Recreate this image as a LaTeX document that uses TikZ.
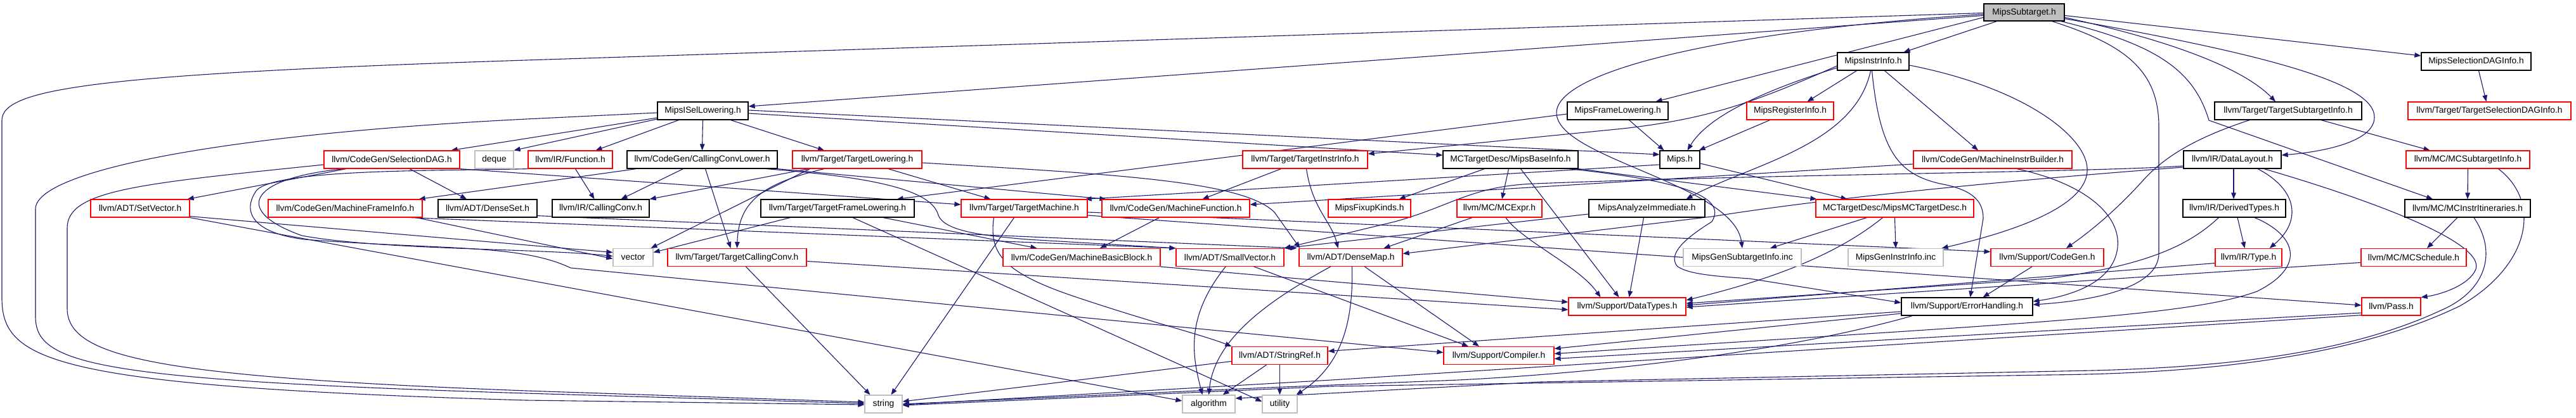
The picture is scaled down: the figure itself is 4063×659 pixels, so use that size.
\documentclass[tikz,border=0pt]{standalone}
\usepackage{fontspec}
\setmainfont{Liberation Sans}
\usetikzlibrary{arrows.meta,calc,backgrounds}
\definecolor{edgeblue}{HTML}{191970}
\definecolor{boxgray}{HTML}{BFBFBF}
\definecolor{boxred}{HTML}{FF0000}
\tikzset{
  box/.style={draw, rectangle, inner sep=0pt, minimum height=14pt, line width=0.6pt, font=\fontsize{6.9}{8}\selectfont, text=black, fill=white},
  kbox/.style={box, draw=black},
  rbox/.style={box, draw=boxred},
  gbox/.style={box, draw=boxgray},
  rootbox/.style={box, draw=black, fill=boxgray},
  bw/.style={minimum width=#1*0.5pt},
  lnk/.style={draw=edgeblue, line width=0.55pt, line join=round, -{Triangle[length=5pt,width=3.8pt]}},
}
\begin{document}
\begin{tikzpicture}[x=0.5pt,y=-0.5pt]
\begin{scope}[on background layer]
\fill[white] (0,0) rectangle (4063,659);
\end{scope}
\useasboundingbox (0,0) rectangle (4063,659);
% row 0-2
\node[rootbox,bw=127,minimum height=13.5pt] (sub) at (3192.5,19.5) {MipsSubtarget.h};
\node[kbox,bw=113] (instr) at (2954.5,97) {MipsInstrInfo.h};
\node[kbox,bw=173] (sdaginfo) at (3905.5,97) {MipsSelectionDAGInfo.h};
\node[kbox,bw=143] (isel) at (1108.5,175) {MipsISelLowering.h};
\node[kbox,bw=159] (frame) at (2551.5,175) {MipsFrameLowering.h};
\node[rbox,bw=137] (reginfo) at (2823.5,175) {MipsRegisterInfo.h};
\node[kbox,bw=232] (tsi) at (3609,175) {llvm/Target/TargetSubtargetInfo.h};
\node[rbox,bw=257] (tsdag) at (3926.5,175) {llvm/Target/TargetSelectionDAGInfo.h};
% row 3
\node[rbox,bw=214] (sdag) at (618,252) {llvm/CodeGen/SelectionDAG.h};
\node[gbox,bw=61] (deque) at (779.5,252) {deque};
\node[rbox,bw=133] (func) at (899.5,252) {llvm/IR/Function.h};
\node[kbox,bw=237] (ccl) at (1107.5,252) {llvm/CodeGen/CallingConvLower.h};
\node[rbox,bw=204] (tl) at (1352,252) {llvm/Target/TargetLowering.h};
\node[rbox,bw=197] (tii) at (2058.5,252) {llvm/Target/TargetInstrInfo.h};
\node[kbox,bw=213] (base) at (2382.5,252) {MCTargetDesc/MipsBaseInfo.h};
\node[kbox,bw=63] (mips) at (2649.5,252) {Mips.h};
\node[rbox,bw=250] (mib) at (3143,252) {llvm/CodeGen/MachineInstrBuilder.h};
\node[kbox,bw=154] (dl) at (3521,252) {llvm/IR/DataLayout.h};
\node[rbox,bw=195] (mcsti) at (3892.5,252) {llvm/MC/MCSubtargetInfo.h};
% row 4
\node[rbox,bw=156] (setvec) at (221,329) {llvm/ADT/SetVector.h};
\node[rbox,bw=243] (mfi) at (544.5,329) {llvm/CodeGen/MachineFrameInfo.h};
\node[kbox,bw=156] (denseset) at (769,329) {llvm/ADT/DenseSet.h};
\node[kbox,bw=153] (cc) at (947.5,329) {llvm/IR/CallingConv.h};
\node[kbox,bw=242] (tfl) at (1321,329) {llvm/Target/TargetFrameLowering.h};
\node[rbox,bw=199] (tm) at (1615.5,329) {llvm/Target/TargetMachine.h};
\node[rbox,bw=233] (mf) at (1854.5,329) {llvm/CodeGen/MachineFunction.h};
\node[rbox,bw=130] (fixup) at (2160,329) {MipsFixupKinds.h};
\node[rbox,bw=134] (mcexpr) at (2365,329) {llvm/MC/MCExpr.h};
\node[kbox,bw=183] (ai) at (2597.5,329) {MipsAnalyzeImmediate.h};
\node[rbox,bw=249] (mcdesc) at (2988.5,329) {MCTargetDesc/MipsMCTargetDesc.h};
\node[kbox,bw=162] (dt) at (3524,329) {llvm/IR/DerivedTypes.h};
\node[kbox,bw=198] (mcii) at (3892,329) {llvm/MC/MCInstrItineraries.h};
% row 5
\node[gbox,bw=63] (vector) at (998.5,406.5) {vector};
\node[rbox,bw=219] (tcc) at (1162.5,406.5) {llvm/Target/TargetCallingConv.h};
\node[rbox,bw=248] (mbb) at (1706,406.5) {llvm/CodeGen/MachineBasicBlock.h};
\node[rbox,bw=170] (svec) at (1940,406.5) {llvm/ADT/SmallVector.h};
\node[rbox,bw=163] (dmap) at (2130.5,406.5) {llvm/ADT/DenseMap.h};
\node[gbox,bw=186] (gensub) at (2748,406.5) {MipsGenSubtargetInfo.inc};
\node[gbox,bw=150] (geninstr) at (2990,406.5) {MipsGenInstrInfo.inc};
\node[rbox,bw=178] (cg) at (3229,406.5) {llvm/Support/CodeGen.h};
\node[rbox,bw=105] (type) at (3546.5,406.5) {llvm/IR/Type.h};
\node[rbox,bw=166] (sched) at (3807,406.5) {llvm/MC/MCSchedule.h};
% row 6-8
\node[rbox,bw=185] (datatypes) at (2566.5,484) {llvm/Support/DataTypes.h};
\node[kbox,bw=207] (err) at (3102.5,484) {llvm/Support/ErrorHandling.h};
\node[rbox,bw=93] (pass) at (3771.5,484) {llvm/Pass.h};
\node[rbox,bw=151] (sref) at (2018.5,561.5) {llvm/ADT/StringRef.h};
\node[rbox,bw=174] (compiler) at (2364,561.5) {llvm/Support/Compiler.h};
\node[gbox,bw=59] (string) at (1393.5,638) {string};
\node[gbox,bw=83] (algo) at (1906.5,638) {algorithm};
\node[gbox,bw=55] (util) at (2018.5,638) {utility};

\begin{scope}[on background layer]
% MipsSubtarget.h
\draw[lnk] ($(sub.south)+(-43,0)$) -- ($(instr.north)+(48,0)$);
\draw[lnk] ($(sub.west)+(0,8)$) -- ($(frame.north)+(60,0)$);
\draw[lnk] ($(sub.west)+(0,5)$) -- ($(isel.east)+(0,-7)$);
\draw[lnk] ($(sub.west)+(0,1)$) -- (830,95) .. controls (150,117) and (3,140) .. (3,190) -- (3,470) .. controls (3,570) and (80,610) .. (830,632) -- ($(string.west)+(0,1)$);
\draw[lnk] ($(sub.west)+(0,3)$) .. controls (2700,50) and (2455,115) .. (2455,178) .. controls (2455,250) and (2735,290) .. (gensub.north);
\draw[lnk] ($(sub.east)+(0,5)$) -- ($(sdaginfo.west)+(0,-9)$);
\draw[lnk] ($(sub.east)+(0,8)$) .. controls (3450,70) and (3545,115) .. ($(tsi.north)+(-20,0)$);
\draw[lnk] ($(sub.east)+(0,10)$) .. controls (3600,90) and (3745,135) .. (3745,185) .. controls (3745,225) and (3660,240) .. ($(dl.east)+(0,-7)$);
\draw[lnk] ($(sub.south east)+(-6,0)$) .. controls (3400,70) and (3460,110) .. (3484,190) -- ($(mcii.north)+(-55,0)$);
\draw[lnk] ($(sub.south east)+(-20,0)$) .. controls (3350,70) and (3405,110) .. (3405,200) -- (3405,400) .. controls (3405,455) and (3300,475) .. ($(err.east)+(0,-3)$);
% MipsInstrInfo.h
\draw[lnk] ($(instr.south)+(-26,0)$) -- ($(reginfo.north)+(27,0)$);
\draw[lnk] ($(instr.west)+(0,10)$) .. controls (2760,150) and (2690,190) .. ($(mips.north)+(12,0)$);
\draw[lnk] ($(instr.south)+(-4,0)$) .. controls (2925,230) and (2760,260) .. ($(ai.north)+(62,0)$);
\draw[lnk] ($(instr.south)+(18,0)$) -- ($(mib.north)+(-23,0)$);
\draw[lnk] ($(instr.south)+(-2,0)$) .. controls (2965,240) and (2995,275) .. (3060,290) .. controls (3115,300) and (3128,320) .. (3128,345) -- ($(err.north)+(5,0)$);
\draw[lnk] ($(instr.east)+(0,6)$) .. controls (3200,140) and (3295,220) .. (3292,270) .. controls (3290,320) and (3200,360) .. ($(geninstr.north east)+(-3,0)$);
\draw[lnk] ($(instr.west)+(0,7)$) .. controls (2760,165) and (2690,188) .. (2560,203) -- ($(tii.east)+(0,-9)$);
% MipsFrameLowering.h / MipsRegisterInfo.h
\draw[lnk] ($(frame.south)+(18,0)$) -- ($(mips.north)+(-25,0)$);
\draw[lnk] ($(frame.west)+(0,5)$) -- ($(tfl.north east)+(-28,0)$);
\draw[lnk] ($(reginfo.south)+(-32,0)$) -- ($(mips.north east)+(-2,0)$);
% MipsISelLowering.h
\draw[lnk] ($(isel.west)+(0,11)$) -- ($(sdag.north east)+(-14,0)$);
\draw[lnk] ($(isel.west)+(0,13)$) -- (deque.north east);
\draw[lnk] ($(isel.south)+(-38,0)$) -- ($(func.north)+(40,0)$);
\draw[lnk] (isel.south) -- (ccl.north);
\draw[lnk] ($(isel.south)+(44,0)$) -- ($(tl.north)+(-52,0)$);
\draw[lnk] ($(isel.east)+(0,-1)$) -- ($(mips.west)+(0,-8)$);
\draw[lnk] ($(isel.east)+(0,4)$) -- ($(base.west)+(0,-7)$);
\draw[lnk] ($(isel.west)+(0,3)$) -- (830,188) .. controls (350,212) and (56,270) .. (56,330) -- (56,500) .. controls (56,575) and (150,600) .. (830,621) -- ($(string.west)+(0,-1)$);
% MipsSelectionDAGInfo.h / TargetSubtargetInfo.h
\draw[lnk] ($(sdaginfo.south)+(4,0)$) -- ($(tsdag.north)+(-5,0)$);
\draw[lnk] ($(tsi.south)+(52,0)$) -- ($(mcsti.north)+(-60,0)$);
\draw[lnk] ($(tsi.south)+(-61,0)$) .. controls (3480,212) and (3420,240) .. (3380,285) .. controls (3330,340) and (3290,370) .. ($(cg.north)+(30,0)$);
% SelectionDAG.h
\draw[lnk] ($(sdag.west)+(0,8)$) .. controls (220,290) and (106,300) .. (106,360) -- (106,487) .. controls (106,565) and (250,595) .. (830,617) -- ($(string.west)+(0,-3)$);
\draw[lnk] ($(sdag.south)+(-72,0)$) -- ($(setvec.north east)+(-4,0)$);
\draw[lnk] ($(sdag.south)+(28,0)$) -- ($(denseset.north)+(-33,0)$);
\draw[lnk] (sdag.south east) -- ($(tm.west)+(0,-6)$);
\draw[lnk] ($(sdag.south)+(-75,0)$) .. controls (400,280) and (360,330) .. (476,372) .. controls (600,395) and (850,392) .. ($(vector.west)+(0,-2)$);
% Function.h
\draw[lnk] ($(func.south)+(8,0)$) -- ($(cc.north)+(-10,0)$);
\draw[lnk] (func.south west) .. controls (700,270) and (440,266) .. (405,300) .. controls (380,335) and (400,368) .. (480,378) .. controls (700,395) and (820,385) .. (900,423) -- ($(compiler.west)+(0,-5)$);
% CallingConvLower.h
\draw[lnk] ($(ccl.south)+(-30,0)$) -- ($(cc.north)+(32,0)$);
\draw[lnk] ($(ccl.south west)+(15,0)$) -- ($(mfi.north east)+(-6,0)$);
\draw[lnk] ($(ccl.south)+(5,0)$) -- ($(tcc.north)+(-10,0)$);
\draw[lnk] ($(ccl.south east)+(-18,0)$) .. controls (1380,280) and (1470,300) .. (1480,340) .. controls (1490,365) and (1550,372) .. (1620,378) -- (svec.north west);
\draw[lnk] (ccl.south east) -- ($(mf.north west)+(7,0)$);
% TargetLowering.h
\draw[lnk] ($(tl.south west)+(26,0)$) -- (cc.north east);
\draw[lnk] ($(tl.south)+(-52,0)$) .. controls (1200,290) and (1165,320) .. (tcc.north);
\draw[lnk] ($(tl.south west)+(28,0)$) -- ($(vector.north east)+(-4,0)$);
\draw[lnk] ($(tl.south)+(49,0)$) -- ($(tm.north)+(-53,0)$);
\draw[lnk] ($(tl.east)+(0,5)$) .. controls (1750,275) and (1960,285) .. (2010,335) -- ($(dmap.north west)+(2,0)$);
% TargetInstrInfo.h
\draw[lnk] ($(tii.south)+(-38,0)$) -- ($(mf.north)+(42,0)$);
\draw[lnk] ($(tii.south)+(2,0)$) .. controls (2070,330) and (2100,350) .. ($(dmap.north)+(-20,0)$);
% MipsBaseInfo.h
\draw[lnk] ($(base.south)+(-41,0)$) -- ($(fixup.north east)+(-19,0)$);
\draw[lnk] ($(base.south)+(-3,0)$) -- ($(mcexpr.north)+(4,0)$);
\draw[lnk] (base.south east) -- ($(mcdesc.north west)+(2,0)$);
\draw[lnk] ($(base.south)+(16,0)$) -- ($(datatypes.north)+(-13,0)$);
\draw[lnk] ($(base.south east)+(-15,0)$) .. controls (2650,285) and (2725,310) .. (2700,350) .. controls (2660,375) and (2630,400) .. (2645,420) .. controls (2660,432) and (2700,436) .. (2760,440) -- ($(err.west)+(0,-6)$);
% Mips.h
\draw[lnk] ($(mips.east)+(0,6)$) -- ($(mcdesc.north)+(-75,0)$);
\draw[lnk] ($(mips.west)+(0,8)$) -- ($(tm.north east)+(-4,0)$);
% MachineInstrBuilder.h
\draw[lnk] ($(mib.west)+(0,7)$) -- ($(mf.east)+(0,-6)$);
\draw[lnk] ($(mib.south)+(38,0)$) .. controls (3290,290) and (3345,340) .. (3340,390) .. controls (3335,440) and (3280,465) .. ($(err.east)+(0,-8)$);
% DataLayout.h
\draw[lnk] ($(dl.south)+(2,0)$) -- ($(dt.north)+(-1,0)$);
\draw[lnk] ($(dl.south)+(40,0)$) .. controls (3625,300) and (3630,350) .. ($(type.north east)+(-20,0)$);
\draw[lnk] ($(dl.south)+(50,0)$) .. controls (3720,310) and (3920,380) .. (3905,425) .. controls (3895,450) and (3850,465) .. (pass.north east);
\draw[lnk] ($(dl.west)+(0,12)$) .. controls (3100,290) and (2850,318) .. (2700,342) -- ($(dmap.east)+(0,-6)$);
\draw[lnk] ($(dl.west)+(0,10)$) .. controls (3300,272) and (2800,275) .. (2420,290) .. controls (2320,294) and (2290,325) .. (2200,350) -- (svec.north east);
% DerivedTypes.h, Type.h, MCSchedule.h
\draw[lnk] ($(dt.south)+(5,0)$) -- ($(type.north)+(-6,0)$);
\draw[lnk] ($(dt.south west)+(57,0)$) .. controls (3450,390) and (3380,420) .. (3230,440) -- ($(datatypes.east)+(0,-5)$);
\draw[lnk] ($(dt.south)+(32,0)$) .. controls (3620,370) and (3640,420) .. (3560,460) .. controls (3450,500) and (3200,510) .. ($(compiler.east)+(0,-3)$);
\draw[lnk] ($(type.west)+(0,9)$) -- ($(datatypes.east)+(0,-2)$);
\draw[lnk] ($(sched.west)+(0,8)$) -- ($(datatypes.east)+(0,1)$);
% MCSubtargetInfo.h, MCInstrItineraries.h
\draw[lnk] (mcsti.south) -- (mcii.north);
\draw[lnk] ($(mcsti.south east)+(-50,0)$) .. controls (4010,320) and (3990,420) .. (3880,483) .. controls (3700,570) and (3450,590) .. (3230,592) -- (2100,610) -- ($(string.east)+(0,2)$);
\draw[lnk] ($(mcii.south)+(-16,0)$) -- ($(sched.north)+(21,0)$);
\draw[lnk] ($(mcii.south)+(10,0)$) .. controls (3940,400) and (3920,460) .. (3850,490) .. controls (3700,560) and (3500,580) .. (3300,585) -- (2430,603) -- ($(algo.east)+(0,-9)$);
% Pass.h, CodeGen.h
\draw[lnk] ($(pass.south west)+(0,-1)$) -- (2100,600) -- ($(string.east)+(0,1)$);
\draw[lnk] ($(pass.west)+(0,10)$) -- ($(compiler.east)+(0,5)$);
\draw[lnk] ($(cg.south)+(-24,0)$) -- ($(err.north)+(25,0)$);
% ErrorHandling.h
\draw[lnk] ($(err.west)+(0,8)$) -- ($(sref.east)+(0,-7)$);
\draw[lnk] ($(err.west)+(0,11)$) -- ($(compiler.east)+(0,-11)$);
\draw[lnk] ($(err.south west)+(18,0)$) .. controls (2800,560) and (2500,590) .. (2300,600) -- (2000,612) -- (string.east);
% StringRef.h
\draw[lnk] ($(sref.south)+(-21,0)$) -- ($(algo.north east)+(-20,0)$);
\draw[lnk] (sref.south) -- (util.north);
\draw[lnk] ($(sref.west)+(0,9)$) -- ($(string.east)+(0,-4)$);
% DenseMap.h, SmallVector.h
\draw[lnk] ($(dmap.south)+(-32,0)$) .. controls (1990,480) and (1915,540) .. (algo.north);
\draw[lnk] ($(dmap.south)+(2,0)$) .. controls (2135,520) and (2110,580) .. ($(util.north east)+(-2,0)$);
\draw[lnk] ($(dmap.south)+(22,0)$) -- ($(compiler.north)+(-31,0)$);
\draw[lnk] ($(svec.south)+(-7,0)$) .. controls (1870,500) and (1880,560) .. ($(algo.north)+(-10,0)$);
\draw[lnk] ($(svec.south)+(38,0)$) -- ($(compiler.north)+(-48,0)$);
% MachineBasicBlock.h, MachineFunction.h
\draw[lnk] (mbb.south east) -- ($(datatypes.west)+(0,-7)$);
\draw[lnk] ($(mf.south)+(-26,0)$) -- ($(mbb.north)+(29,0)$);
% MachineFrameInfo.h
\draw[lnk] ($(mfi.south east)+(-20,0)$) -- (svec.north west);
\draw[lnk] ($(mfi.south east)+(-10,0)$) -- ($(vector.west)+(0,2)$);
% SetVector.h, DenseSet.h
\draw[lnk] ($(setvec.south east)+(0,-2)$) -- ($(vector.west)+(0,-8)$);
\draw[lnk] (setvec.south east) -- ($(algo.west)+(0,-5)$);
\draw[lnk] ($(denseset.south east)+(0,-3)$) -- ($(dmap.north west)+(-3,0)$);
% TargetFrameLowering.h
\draw[lnk] ($(tfl.south west)+(47,0)$) -- ($(vector.east)+(0,-8)$);
\draw[lnk] ($(tfl.south)+(72,0)$) -- ($(mbb.north west)+(54,0)$);
\draw[lnk] ($(tfl.south)+(24,0)$) -- ($(util.west)+(0,-4)$);
% TargetCallingConv.h
\draw[lnk] ($(tcc.south)+(14,0)$) -- ($(string.north)+(-21,0)$);
\draw[lnk] ($(tcc.east)+(0,6)$) -- ($(datatypes.west)+(0,5)$);
% TargetMachine.h
\draw[lnk] ($(tm.south)+(-16,0)$) -- ($(string.north)+(12,0)$);
\draw[lnk] ($(tm.south west)+(52,0)$) .. controls (1560,400) and (1580,430) .. (1700,470) .. controls (1820,510) and (1900,530) .. (sref.north west);
\draw[lnk] ($(tm.east)+(0,11)$) -- ($(pass.west)+(0,-2)$);
\draw[lnk] ($(tm.east)+(0,6)$) -- ($(cg.west)+(0,-9)$);
% MCExpr.h, MipsAnalyzeImmediate.h, MipsMCTargetDesc.h
\draw[lnk] ($(mcexpr.south)+(-43,0)$) -- ($(dmap.north)+(52,0)$);
\draw[lnk] ($(mcexpr.south)+(10,0)$) .. controls (2400,380) and (2490,420) .. ($(datatypes.north)+(-42,0)$);
\draw[lnk] ($(ai.south)+(-5,0)$) -- ($(datatypes.north)+(3,0)$);
\draw[lnk] ($(ai.west)+(0,9)$) -- (svec.north east);
\draw[lnk] ($(mcdesc.south)+(-44,0)$) -- ($(gensub.north)+(44,0)$);
\draw[lnk] (mcdesc.south) -- (geninstr.north);
\draw[lnk] ($(mcdesc.south)+(-19,0)$) .. controls (2900,400) and (2800,440) .. ($(datatypes.east)+(0,-10)$);
\end{scope}
\end{tikzpicture}
\end{document}
